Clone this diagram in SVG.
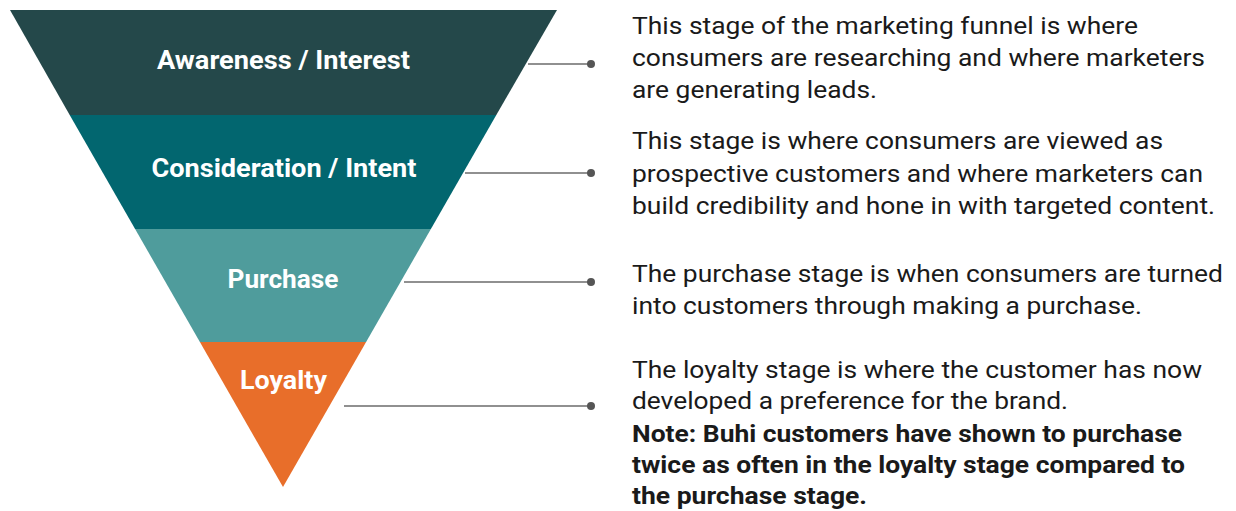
<svg xmlns="http://www.w3.org/2000/svg" width="1236" height="511" viewBox="0 0 1236 511">
  <style>
    .band-label { font-family: Roboto, "Liberation Sans", sans-serif; font-weight: 700; font-size: 25px; fill: #ffffff; text-anchor: middle; }
    .desc { font-family: Roboto, "Liberation Sans", sans-serif; font-size: 24.5px; fill: #1a1a1a; }
    .desc-bold { font-weight: 700; }
    .leader { stroke: #6b6b6b; stroke-width: 1.6; fill: none; }
    .dot { fill: #555555; }
  </style>
  <rect width="1236" height="511" fill="#ffffff"/>

  <!-- funnel bands, top to bottom -->
  <g id="awareness">
    <polygon points="10,10 557,10 496.3,115 69.7,115" fill="#24484a"/>
    <text class="band-label" x="283.5" y="69" textLength="253" lengthAdjust="spacingAndGlyphs">Awareness / Interest</text>
  </g>
  <g id="consideration">
    <polygon points="69.7,115 496.3,115 430.9,229 135.1,229" fill="#02666f"/>
    <text class="band-label" x="284" y="177" textLength="265" lengthAdjust="spacingAndGlyphs">Consideration / Intent</text>
  </g>
  <g id="purchase">
    <polygon points="135.1,229 430.9,229 366.1,342 199.9,342" fill="#4f9c9c"/>
    <text class="band-label" x="283" y="288" textLength="111" lengthAdjust="spacingAndGlyphs">Purchase</text>
  </g>
  <g id="loyalty">
    <polygon points="199.9,342 366.1,342 283,487" fill="#e86e2a"/>
    <text class="band-label" x="283.5" y="389" textLength="87" lengthAdjust="spacingAndGlyphs">Loyalty</text>
  </g>

  <!-- leader lines from each band to its description -->
  <g id="connectors">
    <line class="leader" x1="528" y1="64" x2="591" y2="64"/>
    <circle class="dot" cx="591" cy="64" r="4"/>
    <line class="leader" x1="465" y1="173" x2="591" y2="173"/>
    <circle class="dot" cx="591" cy="173" r="4"/>
    <line class="leader" x1="404" y1="282" x2="591" y2="282"/>
    <circle class="dot" cx="591" cy="282" r="4"/>
    <line class="leader" x1="344" y1="406" x2="591" y2="406"/>
    <circle class="dot" cx="591" cy="406" r="4"/>
  </g>

  <!-- stage descriptions -->
  <g id="desc-awareness">
    <text class="desc" x="632" y="34" textLength="506" lengthAdjust="spacingAndGlyphs">This stage of the marketing funnel is where</text>
    <text class="desc" x="632" y="66" textLength="573" lengthAdjust="spacingAndGlyphs">consumers are researching and where marketers</text>
    <text class="desc" x="632" y="98" textLength="245" lengthAdjust="spacingAndGlyphs">are generating leads.</text>
  </g>
  <g id="desc-consideration">
    <text class="desc" x="632" y="149" textLength="531" lengthAdjust="spacingAndGlyphs">This stage is where consumers are viewed as</text>
    <text class="desc" x="632" y="182" textLength="571" lengthAdjust="spacingAndGlyphs">prospective customers and where marketers can</text>
    <text class="desc" x="632" y="214" textLength="583" lengthAdjust="spacingAndGlyphs">build credibility and hone in with targeted content.</text>
  </g>
  <g id="desc-purchase">
    <text class="desc" x="632" y="282" textLength="591" lengthAdjust="spacingAndGlyphs">The purchase stage is when consumers are turned</text>
    <text class="desc" x="632" y="314" textLength="510" lengthAdjust="spacingAndGlyphs">into customers through making a purchase.</text>
  </g>
  <g id="desc-loyalty">
    <text class="desc" x="632" y="378" textLength="570" lengthAdjust="spacingAndGlyphs">The loyalty stage is where the customer has now</text>
    <text class="desc" x="632" y="409" textLength="436" lengthAdjust="spacingAndGlyphs">developed a preference for the brand.</text>
    <text class="desc desc-bold" x="632" y="442" textLength="550" lengthAdjust="spacingAndGlyphs">Note: Buhi customers have shown to purchase</text>
    <text class="desc desc-bold" x="632" y="473" textLength="553" lengthAdjust="spacingAndGlyphs">twice as often in the loyalty stage compared to</text>
    <text class="desc desc-bold" x="632" y="504" textLength="235" lengthAdjust="spacingAndGlyphs">the purchase stage.</text>
  </g>
</svg>
